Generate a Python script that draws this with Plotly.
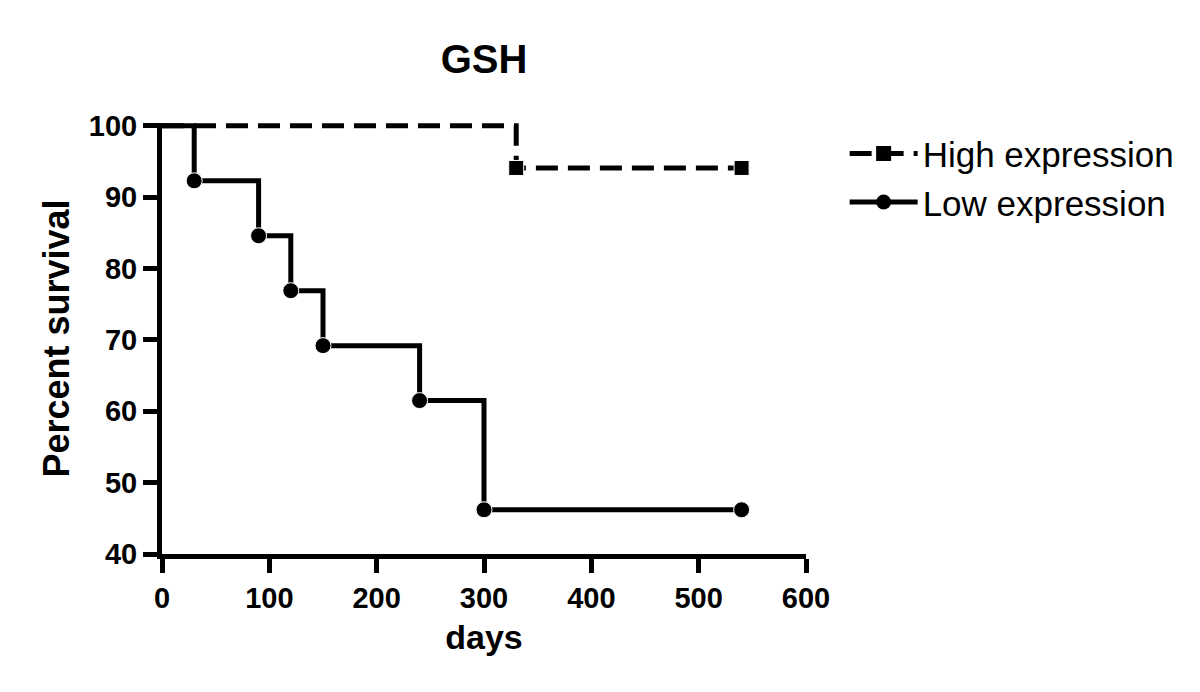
import plotly.graph_objects as go

# Kaplan-Meier step data (days, percent survival)
high_days = [0, 330, 540]
high_surv = [100, 94.1, 94.1]

low_days = [0, 30, 90, 120, 150, 240, 300, 540]
low_surv = [100, 92.3, 84.6, 76.9, 69.2, 61.5, 46.2, 46.2]

x_ticks = [0, 100, 200, 300, 400, 500, 600]
y_ticks = [40, 50, 60, 70, 80, 90, 100]

FONT = "Liberation Sans, Arial, sans-serif"
HIGH_DASH = "22px,10px"

fig = go.Figure()

# data traces (no marker on the starting point)
fig.add_trace(go.Scatter(
    x=high_days, y=high_surv, mode="lines+markers", showlegend=False,
    line=dict(shape="hv", color="black", width=5, dash=HIGH_DASH),
    marker=dict(symbol="square", color="black", opacity=1,
                size=[0] + [15] * (len(high_days) - 1)),
    cliponaxis=False,
))
fig.add_trace(go.Scatter(
    x=low_days, y=low_surv, mode="lines+markers", showlegend=False,
    line=dict(shape="hv", color="black", width=5),
    marker=dict(symbol="circle", color="black", opacity=1,
                size=[0] + [16] * (len(low_days) - 1)),
    cliponaxis=False,
))

# legend entries
fig.add_trace(go.Scatter(
    x=[None], y=[None], mode="lines+markers", name="High expression",
    line=dict(color="black", width=5, dash=HIGH_DASH),
    marker=dict(symbol="square", color="black", size=15),
))
fig.add_trace(go.Scatter(
    x=[None], y=[None], mode="lines+markers", name="Low expression",
    line=dict(color="black", width=5),
    marker=dict(symbol="circle", color="black", size=15),
))

axis_common = dict(
    showline=True, linecolor="black", linewidth=5,
    ticks="outside", ticklen=14, tickwidth=5, tickcolor="black",
    showgrid=False, zeroline=False, automargin=False,
    tickfont=dict(family=FONT, size=29, color="black", weight="bold"),
)

# page body has an 8px margin, so the figure is 1192x684 and offsets shifted
fig.update_layout(
    width=1192, height=684,
    margin=dict(l=154, r=394, t=115, b=138),
    paper_bgcolor="white", plot_bgcolor="white",
    title=dict(text="<b>GSH</b>", x=0.5, xref="paper", xanchor="center",
               y=1 - 51 / 684, yanchor="middle",
               font=dict(family=FONT, size=40, color="black")),
    xaxis=dict(range=[0, 600], tickvals=x_ticks,
               title=dict(text="<b>days</b>", standoff=14,
                          font=dict(family=FONT, size=34, color="black")),
               **axis_common),
    yaxis=dict(range=[40, 100.4], tickvals=y_ticks,
               title=dict(text="<b>Percent survival</b>", standoff=10,
                          font=dict(family=FONT, size=36, color="black")),
               **axis_common),
    legend=dict(x=1.060, xanchor="left", y=0.997, yanchor="top",
                font=dict(family=FONT, size=35, color="black"),
                itemwidth=68, bgcolor="rgba(0,0,0,0)"),
)

fig.write_html("out.html")
